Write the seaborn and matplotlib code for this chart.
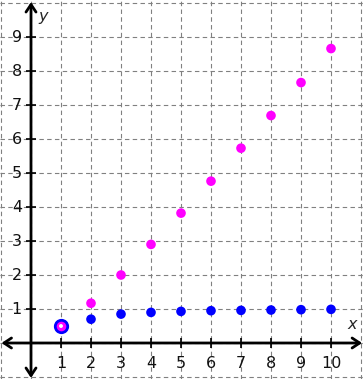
import numpy as np
import pandas as pd
import matplotlib
matplotlib.use("Agg")
import matplotlib.pyplot as plt
import seaborn as sns

# data
n = [1, 2, 3, 4, 5, 6, 7, 8, 9, 10]
blue_vals = [0.5, 0.7, 0.85, 0.9, 0.93, 0.95, 0.96, 0.97, 0.98, 0.99]
magenta_vals = [0.5, 1.17, 2.0, 2.9, 3.82, 4.76, 5.73, 6.69, 7.66, 8.66]
x_ticks = [1, 2, 3, 4, 5, 6, 7, 8, 9, 10]
y_ticks = [1, 2, 3, 4, 5, 6, 7, 8, 9]
grid_x = list(range(-1, 12))
grid_y = list(range(-1, 11))

df = pd.DataFrame({"n": n, "blue": blue_vals, "magenta": magenta_vals})

sns.set_theme(style="white")
plt.rcParams['font.family'] = ['DejaVu Sans']

fig = plt.figure(figsize=(3.63, 3.79), dpi=100)
fig.patch.set_edgecolor('#a9c3df')
fig.patch.set_linewidth(1.5)
ax = fig.add_axes([0, 0, 1, 1])
ax.set_xlim(-31 / 30, 332 / 30)
ax.set_ylim(-36 / 34, 343 / 34)
for s in ax.spines.values():
    s.set_visible(False)

ax.set_xticks(grid_x)
ax.set_yticks(grid_y)
ax.tick_params(length=0, labelbottom=False, labelleft=False)
ax.grid(True, color='#808080', linewidth=0.8, linestyle=(0, (4, 3)))

# axes with arrows
xl = ax.get_xlim()
yl = ax.get_ylim()
arrow = dict(arrowstyle='<->,head_length=0.45,head_width=0.3', lw=2, color='black',
             shrinkA=0, shrinkB=0)
ax.annotate('', xy=(xl[1] - 0.03, 0), xytext=(xl[0] + 0.05, 0), arrowprops=arrow)
ax.annotate('', xy=(0, yl[1] - 0.06), xytext=(0, yl[0] + 0.03), arrowprops=arrow)

# tick marks crossing the axes
ax.plot(x_ticks, [0] * len(x_ticks), ls='none', marker='|', ms=7, mew=1.2, color='black')
ax.plot([0] * len(y_ticks), y_ticks, ls='none', marker='_', ms=7, mew=1.2, color='black')

for t in x_ticks:
    ax.annotate(str(t), xy=(t, 0), xytext=(0, -14.5), textcoords='offset points',
                ha='center', va='center', fontsize=11.5, color='#111111')
for t in y_ticks:
    ax.annotate(str(t), xy=(0, t), xytext=(-6.5, 0), textcoords='offset points',
                ha='right', va='center', fontsize=11.5, color='#111111')

ax.text(xl[1] - 0.35, 0.55, 'x', style='italic', fontsize=11.5, ha='center', va='center')
ax.text(0.4, yl[1] - 0.5, 'y', style='italic', fontsize=11.5, ha='center', va='center')

# points
sns.scatterplot(data=df, x='n', y='blue', color='#0000ff', s=48, edgecolor='none', ax=ax, zorder=5)
sns.scatterplot(data=df, x='n', y='magenta', color='#ff00ff', s=48, edgecolor='none', ax=ax, zorder=6)
# highlighted starting point
ax.scatter(n[0], blue_vals[0], s=80, facecolor='#ff00ff', edgecolor='#0000ff', linewidth=2, zorder=7)
ax.scatter(n[0], blue_vals[0], s=8, facecolor='white', edgecolor='none', zorder=8)

ax.set_xlabel('')
ax.set_ylabel('')

fig.savefig('out.png', dpi=100, edgecolor=fig.get_edgecolor())
